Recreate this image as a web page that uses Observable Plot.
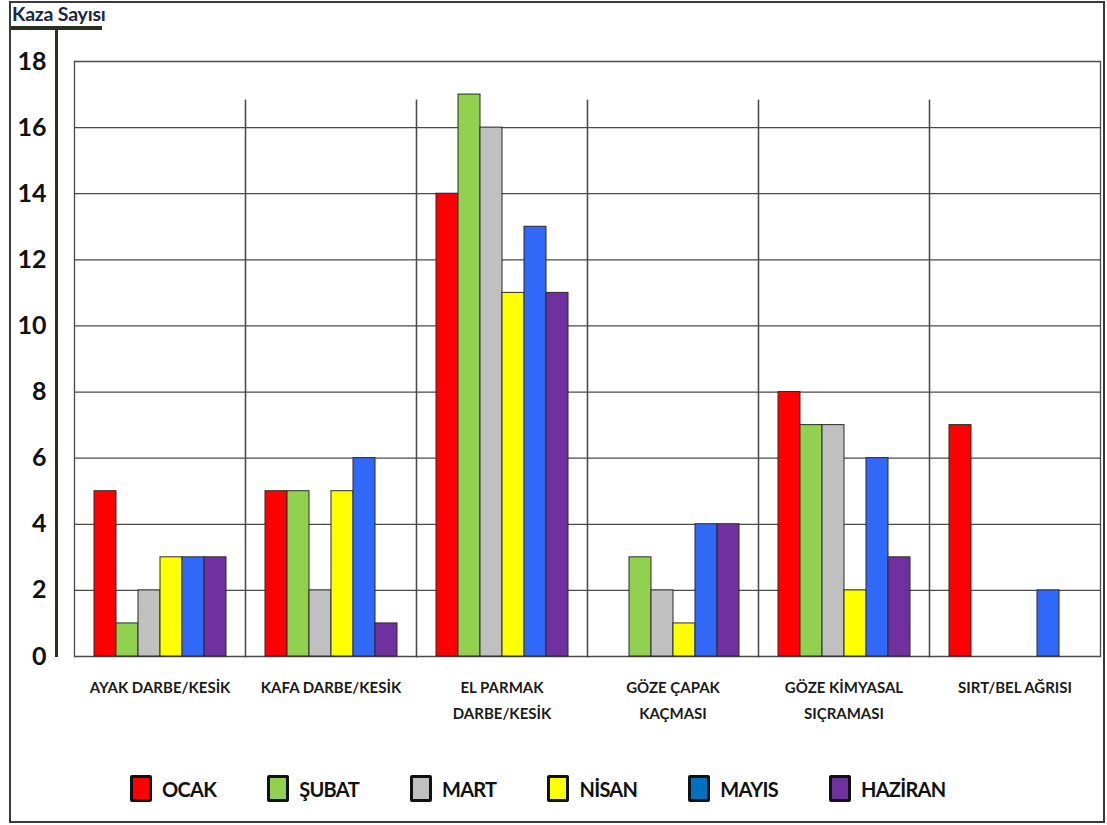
<!DOCTYPE html>
<html>
<head>
<meta charset="utf-8">
<script src="https://cdn.jsdelivr.net/npm/d3@7"></script>
<script src="https://cdn.jsdelivr.net/npm/@observablehq/plot@0.6"></script>
<style>
  html, body { margin: 0; padding: 0; background: #fff; }
  body { width: 1107px; height: 825px; position: relative; overflow: hidden; font-family: Lato, "Open Sans", sans-serif; }
  #box { position: absolute; left: 9px; top: 1px; width: 1096px; height: 822px; border: 2px solid #3a3a3a; box-sizing: border-box; }
  #title { position: absolute; left: 12px; top: 3px; font-size: 19.5px; font-weight: bold; color: #1b2740; letter-spacing: -0.2px; line-height: 22px; }
  #titlebar { position: absolute; left: 11px; top: 26px; width: 91px; height: 4px; background: #27321e; }
  #axisline { position: absolute; left: 55px; top: 28px; width: 3px; height: 629px; background: #27321e; }
  #chart { position: absolute; left: 0; top: 0; }
  #legend { position: absolute; left: 130px; top: 775px; display: flex; }
  .item { display: flex; align-items: center; margin-right: 51px; }
  .sw { width: 16px; height: 21px; border: 3px solid #111; border-radius: 2px; margin-right: 10px; }
  .lab { font-size: 20px; font-weight: bold; color: #111; letter-spacing: -0.7px; }
</style>
</head>
<body>
<div id="box"></div>
<div id="chart"></div>
<div id="title">Kaza Sayısı</div>
<div id="titlebar"></div>
<div id="axisline"></div>
<div id="legend"></div>
<script>
const categories = ["AYAK DARBE/KESİK", "KAFA DARBE/KESİK", "EL PARMAK DARBE/KESİK", "GÖZE ÇAPAK KAÇMASI", "GÖZE KİMYASAL SIÇRAMASI", "SIRT/BEL AĞRISI"];
const categoryLabels = ["AYAK DARBE/KESİK", "KAFA DARBE/KESİK", "EL PARMAK\nDARBE/KESİK", "GÖZE ÇAPAK\nKAÇMASI", "GÖZE KİMYASAL\nSIÇRAMASI", "SIRT/BEL AĞRISI"];
const months = ["OCAK", "ŞUBAT", "MART", "NİSAN", "MAYIS", "HAZİRAN"];
const monthColors = ["#ff0000", "#92d050", "#c0c0c0", "#ffff00", "#3068f8", "#7030a0"];
const legendColors = ["#ff0000", "#92d050", "#c0c0c0", "#ffff00", "#0070c0", "#7030a0"];
const ocak    = [5, 5, 14, 0, 8, 7];
const subat   = [1, 5, 17, 3, 7, 0];
const mart    = [2, 2, 16, 2, 7, 0];
const nisan   = [3, 5, 11, 1, 2, 0];
const mayis   = [3, 6, 13, 4, 6, 2];
const haziran = [3, 1, 11, 4, 3, 0];
const yTicks = [0, 2, 4, 6, 8, 10, 12, 14, 16, 18];

const series = [ocak, subat, mart, nisan, mayis, haziran];
const data = [];
categories.forEach((c, i) => months.forEach((m, j) => data.push({cat: c, month: m, value: series[j][i]})));
const labelOf = Object.fromEntries(categories.map((c, i) => [c, categoryLabels[i]]));

const plot = Plot.plot({
  width: 1107,
  height: 740,
  marginTop: 61,
  marginLeft: 73,
  marginRight: 6,
  marginBottom: 84,
  style: {fontFamily: "Lato, 'Open Sans', sans-serif", background: "transparent"},
  fx: {domain: categories, padding: 0, label: null},
  x: {domain: months, paddingInner: 0, paddingOuter: 0.74, axis: null},
  y: {domain: [0, 18], label: null},
  color: {domain: months, range: monthColors},
  marks: [
    Plot.ruleY(yTicks, {stroke: "#4a4a4a", strokeWidth: 1.3}),
    Plot.frame({anchor: "left", insetTop: 39, stroke: "#4a4a4a", strokeWidth: 1.3}),
    Plot.frame({anchor: "right", insetTop: 39, stroke: "#4a4a4a", strokeWidth: 1.3}),
    Plot.barY(data.filter(d => d.value > 0), {fx: "cat", x: "month", y: "value", fill: "month", stroke: "#2a2a2a", strokeWidth: 1}),
    Plot.axisY(yTicks, {anchor: "left", tickSize: 0, tickPadding: 28, fontSize: 25, fontWeight: "bold", fill: "#111", label: null}),
    Plot.axisFx({anchor: "bottom", tickSize: 0, tickPadding: 18, fontSize: 15, fontWeight: "bold", fill: "#1a1a1a", lineHeight: 1.73, tickFormat: d => labelOf[d], label: null})
  ]
});
document.getElementById("chart").appendChild(plot);

// outer left and right edges of the plot box reach up to the top grid line
const yTop = plot.scale("y").apply(d3.max(yTicks));
const frames = plot.querySelectorAll('g[aria-label="frame"]');
if (frames.length >= 2) {
  const leftLines = frames[0].querySelectorAll("line");
  if (leftLines.length) leftLines[0].setAttribute("y1", yTop);
  const rightLines = frames[1].querySelectorAll("line");
  if (rightLines.length) rightLines[rightLines.length - 1].setAttribute("y1", yTop);
}

const legend = document.getElementById("legend");
months.forEach((m, i) => {
  const it = document.createElement("div");
  it.className = "item";
  it.innerHTML = `<div class="sw" style="background:${legendColors[i]}"></div><span class="lab">${m}</span>`;
  legend.appendChild(it);
});
</script>
</body>
</html>
